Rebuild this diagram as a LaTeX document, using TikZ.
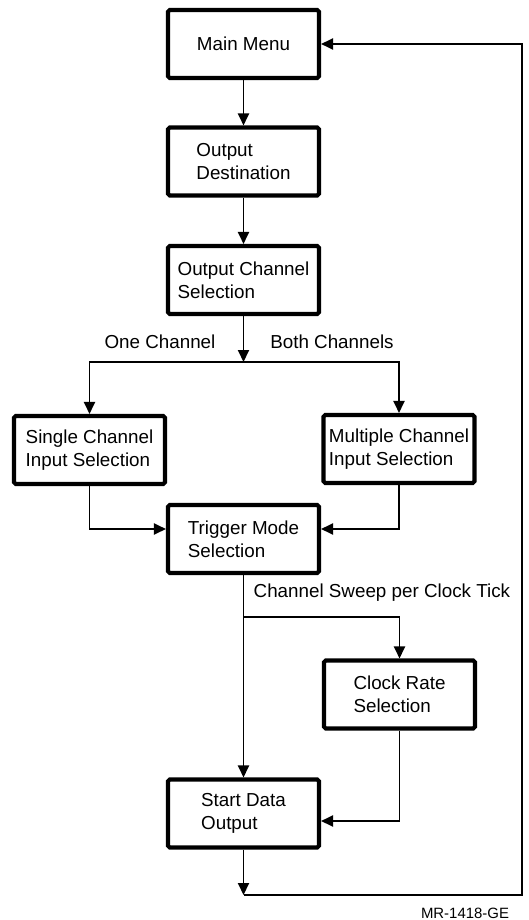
\documentclass[tikz,border=0pt]{standalone}
\usepackage{fontspec}
\setmainfont{Liberation Sans}
\usetikzlibrary{arrows.meta}

\begin{document}
\begin{tikzpicture}[font=\fontsize{10.7}{13}\selectfont]
\useasboundingbox (0,0) rectangle (10.56,-18.4);

\begin{scope}[every node/.style={draw,line width=2.3pt,rounded corners=1pt,
              minimum width=3.02cm,minimum height=1.36cm,
              inner xsep=1pt,align=left}]
\node (MM) at (4.87,-0.88) {Main Menu};
\node (OD) at (4.87,-3.23) {Output\\Destination};
\node (OC) at (4.87,-5.60) {Output Channel\\Selection};
\node (SC) at (1.79,-9.00) {Single Channel\\Input Selection};
\node (MC) at (7.98,-8.98) {Multiple Channel\\Input Selection};
\node (TM) at (4.87,-10.78) {Trigger Mode\\Selection};
\node (CR) at (7.99,-13.89) {Clock Rate\\Selection};
\node (SD) at (4.87,-16.27) {Start Data\\Output};
\end{scope}

\node (one) at (3.2,-6.84) {One Channel};
\node (both) at (6.64,-6.84) {Both Channels};
\node[anchor=west] (sweep) at (4.95,-11.86) {Channel Sweep per Clock Tick};
\node[font=\fontsize{8.5}{10}\selectfont] (code) at (9.3,-18.26) {MR-1418-GE};

\coordinate (split) at (4.87,-7.24);
\coordinate (fork) at (4.87,-12.34);
\coordinate (ret) at (4.87,-17.9);
\coordinate (back) at (10.44,-17.9);

\begin{scope}[>={Triangle[length=0.24cm,width=0.22cm]}, line width=1.1pt]
\draw [->] (MM) -- (OD);
\draw [->] (OD) -- (OC);
\draw [->] (OC) -- (split);
\draw [->] (split) -| (SC);
\draw [->] (split) -| (MC);
\draw [->] (SC) |- ([yshift=2mm]TM.west);
\draw [->] (MC) |- ([yshift=2mm]TM.east);
\draw [->] (TM) -- (SD);
\draw [->] (fork) -| (CR);
\draw [->] (CR) |- ([yshift=-1.5mm]SD.east);
\draw [->] (SD) -- (ret);
\draw [->] (ret) -- (back) |- (MM);
\end{scope}
\end{tikzpicture}
\end{document}
